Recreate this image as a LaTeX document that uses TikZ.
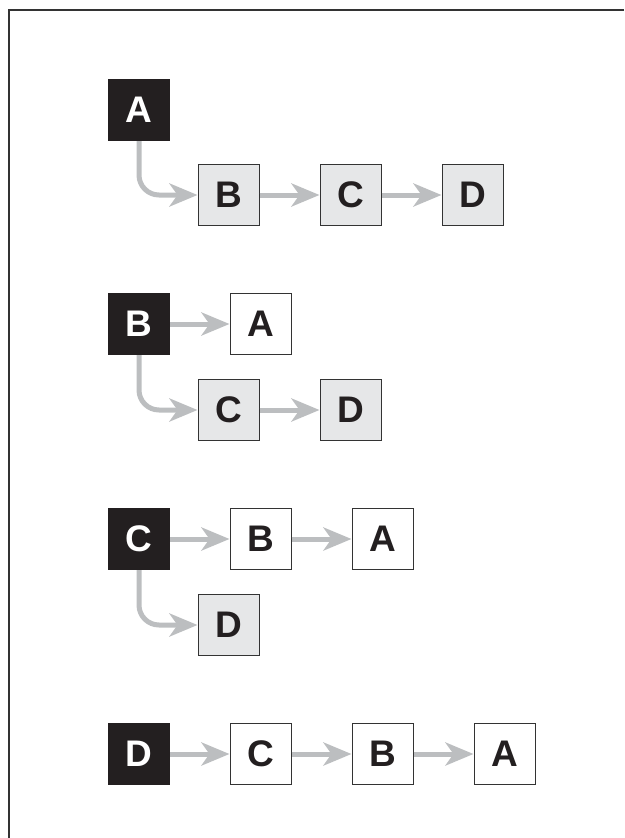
\documentclass[tikz,border=0pt]{standalone}
\usepackage{fontspec}
\setmainfont{Liberation Sans}
\usetikzlibrary{arrows.meta}
\definecolor{boxblack}{HTML}{231F20}
\definecolor{boxgray}{HTML}{E6E7E8}
\definecolor{linegray}{HTML}{BCBEC0}
\definecolor{edgegray}{HTML}{333333}
\begin{document}
\begin{tikzpicture}[x=1pt,y=-1pt,
  base/.style={minimum size=61pt,inner sep=0pt,draw=edgegray,line width=1pt,font=\fontsize{37}{37}\selectfont\bfseries},
  headbox/.style={base,fill=boxblack,draw=boxblack,text=white},
  graybox/.style={base,fill=boxgray,text=boxblack},
  whitebox/.style={base,fill=white,text=boxblack},
  conn/.style={draw=linegray,line width=5pt,-{Stealth[length=28pt,width=23pt,inset=8pt]}},
  bendconn/.style={conn,rounded corners=20pt},
  frameline/.style={draw=edgegray,line width=2pt}]
\useasboundingbox (0,0) rectangle (624,838);
\coordinate (ftr) at (624,10);
\coordinate (ftl) at (9,10);
\coordinate (fbl) at (9,838);
\draw[frameline] (ftr) -- (ftl) -- (fbl);
% row 1
\node[headbox] (A1) at (139,110) {A};
\node[graybox] (B1) at (228.5,195) {B};
\node[graybox] (C1) at (350.5,195) {C};
\node[graybox] (D1) at (472.5,195) {D};
\draw[bendconn] (A1.south) |- (B1.west);
\draw[conn] (B1) -- (C1);
\draw[conn] (C1) -- (D1);
% row 2
\node[headbox] (B2) at (139,324) {B};
\node[whitebox] (A2) at (260.5,324) {A};
\node[graybox] (C2) at (228.5,410) {C};
\node[graybox] (D2) at (350.5,410) {D};
\draw[conn] (B2) -- (A2);
\draw[bendconn] (B2.south) |- (C2.west);
\draw[conn] (C2) -- (D2);
% row 3
\node[headbox] (C3) at (139,539) {C};
\node[whitebox] (B3) at (260.5,539) {B};
\node[whitebox] (A3) at (382.5,539) {A};
\node[graybox] (D3) at (228.5,625) {D};
\draw[conn] (C3) -- (B3);
\draw[conn] (B3) -- (A3);
\draw[bendconn] (C3.south) |- (D3.west);
% row 4
\node[headbox] (D4) at (139,754) {D};
\node[whitebox] (C4) at (260.5,754) {C};
\node[whitebox] (B4) at (382.5,754) {B};
\node[whitebox] (A4) at (504.5,754) {A};
\draw[conn] (D4) -- (C4);
\draw[conn] (C4) -- (B4);
\draw[conn] (B4) -- (A4);
\end{tikzpicture}
\end{document}
